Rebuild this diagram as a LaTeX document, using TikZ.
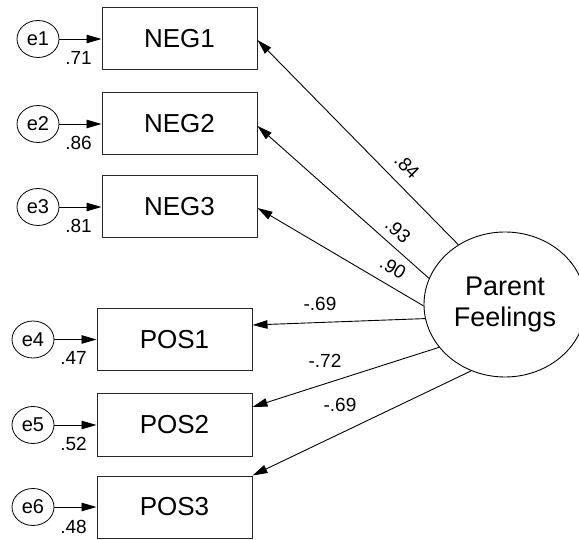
\documentclass[tikz,border=0pt]{standalone}
\usepackage{fontspec}
\setmainfont{Liberation Sans}
\usetikzlibrary{arrows.meta,shapes.geometric}
\begin{document}
\begin{tikzpicture}[x=1pt,y=-1pt,
  obs/.style={draw=black!85, line width=1pt, minimum width=155pt, minimum height=62pt, inner sep=0pt, font=\fontsize{26}{30}\selectfont},
  err/.style={draw, ellipse, line width=0.8pt, minimum width=42pt, minimum height=37pt, inner sep=0pt, font=\fontsize{20}{24}\selectfont},
  lat/.style={draw, ellipse, line width=0.9pt, minimum width=162pt, minimum height=145pt, inner sep=0pt, align=center, font=\fontsize{27}{31}\selectfont},
  coef/.style={inner sep=0pt, font=\fontsize{19}{22}\selectfont},
  arr/.style={line width=0.9pt, -{Triangle[length=15pt,width=8.5pt]}}
]
\useasboundingbox (0,0) rectangle (579,540);
\clip (0,0) rectangle (579,540);

% observed variables
\node[obs] (neg1) at (179.5,39) {NEG1};
\node[obs] (neg2) at (179.5,124) {NEG2};
\node[obs] (neg3) at (179.5,207) {NEG3};
\node[obs] (pos1) at (174.5,339.5) {POS1};
\node[obs] (pos2) at (174.5,425) {POS2};
\node[obs] (pos3) at (174.5,507) {POS3};

% error terms
\node[err] (e1) at (38,39) {e1};
\node[err] (e2) at (38,124) {e2};
\node[err] (e3) at (38,207) {e3};
\node[err] (e4) at (33,339.5) {e4};
\node[err] (e5) at (33,425) {e5};
\node[err] (e6) at (33,507) {e6};

% latent
\node[lat] (pf) at (505,304.5) {Parent\\Feelings};

% error arrows
\draw[arr] (e1.east) -- (neg1.west);
\draw[arr] (e2.east) -- (neg2.west);
\draw[arr] (e3.east) -- (neg3.west);
\draw[arr] (e4.east) -- (pos1.west);
\draw[arr] (e5.east) -- (pos2.west);
\draw[arr] (e6.east) -- (pos3.west);

% error coefficients
\node[coef, anchor=base east] (v1) at (92,65) {.71};
\node[coef, anchor=base east] (v2) at (92,150) {.86};
\node[coef, anchor=base east] (v3) at (92,233) {.81};
\node[coef, anchor=base east] (v4) at (87,365) {.47};
\node[coef, anchor=base east] (v5) at (87,450) {.52};
\node[coef, anchor=base east] (v6) at (87,533) {.48};

% loadings
\draw[arr] (pf.128) -- ([yshift=-1pt]neg1.east);
\draw[arr] (pf.161.7) -- ([yshift=-2pt]neg2.east);
\draw[arr] (pf.181.7) -- ([yshift=-1pt]neg3.east);
\draw[arr] (pf.190.3) -- ([yshift=14.5pt]pos1.east);
\draw[arr] (pf.213.9) -- ([yshift=18pt]pos2.east);
\draw[arr] (pf.243.6) -- (pos3.north east);

\node[coef, rotate=-45.4] (l1) at (407,166.5) {.84};
\node[coef, rotate=-41.8] (l2) at (398,230.5) {.93};
\node[coef, rotate=-30.8] (l3) at (393,268) {.90};
\node[coef] (l4) at (320,304) {-.69};
\node[coef] (l5) at (325,361) {-.72};
\node[coef] (l6) at (340,405) {-.69};
\end{tikzpicture}
\end{document}
